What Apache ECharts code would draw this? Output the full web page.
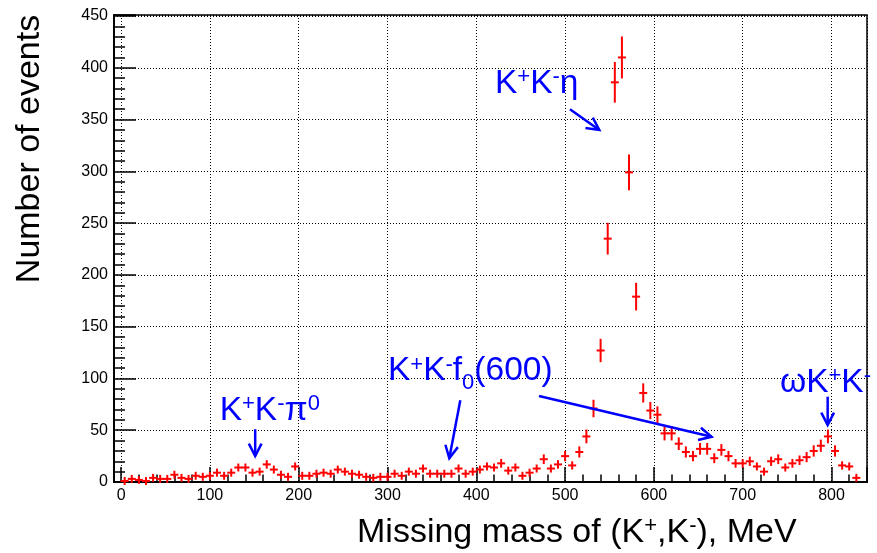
<!DOCTYPE html>
<html>
<head>
<meta charset="utf-8">
<script src="https://cdn.jsdelivr.net/npm/echarts@6/dist/echarts.min.js"></script>
<style>
  html, body { margin: 0; padding: 0; background: #fff; }
  #chart { width: 877px; height: 553px; }
</style>
</head>
<body>
<div id="chart"></div>
<script>
// Missing mass of (K+,K-) histogram, 8 MeV bins
const binWidth = 8;
const binCenters = [
  4, 12, 20, 28, 36, 44, 52, 60, 68, 76,
  84, 92, 100, 108, 116, 124, 132, 140, 148, 156,
  164, 172, 180, 188, 196, 204, 212, 220, 228, 236,
  244, 252, 260, 268, 276, 284, 292, 300, 308, 316,
  324, 332, 340, 348, 356, 364, 372, 380, 388, 396,
  404, 412, 420, 428, 436, 444, 452, 460, 468, 476,
  484, 492, 500, 508, 516, 524, 532, 540, 548, 556,
  564, 572, 580, 588, 596, 604, 612, 620, 628, 636,
  644, 652, 660, 668, 676, 684, 692, 700, 708, 716,
  724, 732, 740, 748, 756, 764, 772, 780, 788, 796,
  804, 812, 820, 828
];
const eventCounts = [
  1, 3, 2, 1, 4, 3, 3, 7, 4, 3,
  6, 5, 6, 9, 6, 9, 14, 14, 9, 10,
  17, 12, 7, 5, 15, 6, 6, 8, 9, 8,
  12, 10, 8, 7, 5, 4, 5, 5, 8, 6,
  10, 8, 13, 8, 8, 8, 8, 13, 8, 10,
  12, 15, 14, 18, 11, 14, 6, 9, 13, 22,
  13, 17, 25, 16, 29, 44, 71, 127, 235, 386,
  410, 299, 179, 86, 69, 65, 47, 47, 37, 29,
  25, 32, 32, 23, 31, 25, 18, 18, 20, 15,
  10, 20, 22, 14, 18, 21, 24, 30, 35, 44,
  30, 16, 15, 4
];

// Axis ranges and tick labels
const xRange = [-8, 840];
const yRange = [0, 451];
const xTickLabels = [0, 100, 200, 300, 400, 500, 600, 700, 800];
const yTickLabels = [0, 50, 100, 150, 200, 250, 300, 350, 400, 450];

// Annotations: reaction labels (left edge, baseline in data units) and arrows (tail -> tip)
const reactionLabels = [
  { pieces: [['K', 'n'], ['+', 'sup'], ['K', 'n'], ['-', 'sup'], ['\u03c0', 'n'], ['0', 'sup']], at: [111, 59] },
  { pieces: [['K', 'n'], ['+', 'sup'], ['K', 'n'], ['-', 'sup'], ['f', 'n'], ['0', 'sub'], ['(600)', 'n']], at: [300.5, 97] },
  { pieces: [['K', 'n'], ['+', 'sup'], ['K', 'n'], ['-', 'sup'], ['\u03b7', 'n']], at: [421, 374.7] },
  { pieces: [['\u03c9', 'n'], ['K', 'n'], ['+', 'sup'], ['K', 'n'], ['-', 'sup']], at: [742, 86.2] }
];
const arrows = [
  { from: [151, 51], to: [151, 25] },
  { from: [382, 79], to: [369.6, 23] },
  { from: [470.6, 83], to: [665, 43.7] },
  { from: [505.5, 360], to: [538.5, 340] },
  { from: [795.7, 82.4], to: [795.7, 55] }
];

const FONT = 'Liberation Sans';
const BLUE = '#0000ff';
const RED = '#ff0000';

function renderErrorBar(params, api) {
  const x = api.value(0);
  const n = api.value(1);
  const err = Math.sqrt(n);
  const c = api.coord([x, n]);
  const top = api.coord([x, n + err]);
  const bot = api.coord([x, n - err]);
  const left = api.coord([x - binWidth / 2, n]);
  const right = api.coord([x + binWidth / 2, n]);
  const half = 4;
  const y1 = Math.min(top[1], c[1] - half);
  const y2 = Math.max(bot[1], c[1] + half);
  const x1 = Math.min(left[0], c[0] - half);
  const x2 = Math.max(right[0], c[0] + half);
  const st = { stroke: RED, lineWidth: 2 };
  return {
    type: 'group',
    children: [
      { type: 'line', shape: { x1: c[0], y1: y1, x2: c[0], y2: y2 }, style: st },
      { type: 'line', shape: { x1: x1, y1: c[1], x2: x2, y2: c[1] }, style: st }
    ]
  };
}

const axisCommon = {
  type: 'value',
  axisLine: { onZero: false, lineStyle: { color: '#000', width: 2 } },
  axisLabel: { color: '#000', fontSize: 16, fontFamily: FONT, showMaxLabel: false },
  splitLine: { show: true, lineStyle: { color: '#000', width: 1, type: [1, 2] } }
};

const option = {
  animation: false,
  backgroundColor: '#fff',
  grid: { left: 114, right: 10, top: 15, bottom: 71, show: true, borderColor: '#000', borderWidth: 1.5 },
  xAxis: Object.assign({}, axisCommon, {
    min: xRange[0], max: xRange[1], splitNumber: xTickLabels.length - 1,
    axisTick: { inside: true, length: 15, lineStyle: { color: '#000', width: 1.5 } },
    minorTick: { show: true, splitNumber: 5, length: 7.5, lineStyle: { color: '#000', width: 1.5 } },
    axisLabel: Object.assign({}, axisCommon.axisLabel, { showMinLabel: false, margin: 6 })
  }),
  yAxis: Object.assign({}, axisCommon, {
    min: yRange[0], max: yRange[1], splitNumber: yTickLabels.length - 1,
    axisTick: { inside: true, length: 22, lineStyle: { color: '#000', width: 1.5 } },
    minorTick: { show: true, splitNumber: 5, length: 11, lineStyle: { color: '#000', width: 1.5 } },
    axisLabel: Object.assign({}, axisCommon.axisLabel, { margin: 6 })
  }),
  series: [{
    type: 'custom',
    renderItem: renderErrorBar,
    data: binCenters.map((x, i) => [x, eventCounts[i]]),
    z: 5
  }]
};

const chart = echarts.init(document.getElementById('chart'));
chart.setOption(option);

// Text layout with super/subscripts
const measureCtx = document.createElement('canvas').getContext('2d');
function textWidth(s, size) {
  measureCtx.font = size + 'px "' + FONT + '"';
  return measureCtx.measureText(s).width;
}
function latexText(pieces, left, baseline, size, color) {
  const small = Math.round(size * 0.66);
  const out = [];
  let x = left;
  pieces.forEach(([t, role]) => {
    const s = role === 'n' ? size : small;
    const base = role === 'sup' ? baseline - size * 0.3 : role === 'sub' ? baseline + size * 0.25 : baseline;
    out.push({
      type: 'text', x: x, y: base - 0.31 * s, silent: true, z: 10,
      style: { text: t, fontSize: s, fontFamily: FONT, fill: color, align: 'left', verticalAlign: 'middle' }
    });
    x += textWidth(t, s);
  });
  return out;
}
function arrowShape(p0, p1) {
  const ang = Math.atan2(p1[1] - p0[1], p1[0] - p0[0]);
  const len = 14, spread = 27 * Math.PI / 180;
  const a1 = [p1[0] - len * Math.cos(ang - spread), p1[1] - len * Math.sin(ang - spread)];
  const a2 = [p1[0] - len * Math.cos(ang + spread), p1[1] - len * Math.sin(ang + spread)];
  const st = { stroke: BLUE, lineWidth: 2.5, fill: null };
  return [
    { type: 'line', silent: true, z: 10, shape: { x1: p0[0], y1: p0[1], x2: p1[0], y2: p1[1] }, style: st },
    { type: 'polyline', silent: true, z: 10, shape: { points: [a1, p1, a2] }, style: st }
  ];
}

const toPx = (p) => chart.convertToPixel({ gridIndex: 0 }, p);
let graphics = [];
reactionLabels.forEach((lab) => {
  const p = toPx(lab.at);
  graphics = graphics.concat(latexText(lab.pieces, p[0], p[1], 33.5, BLUE));
});
arrows.forEach((a) => {
  graphics = graphics.concat(arrowShape(toPx(a.from), toPx(a.to)));
});
// Axis titles
graphics = graphics.concat(latexText(
  [['Missing mass of (K', 'n'], ['+', 'sup'], [',K', 'n'], ['-', 'sup'], ['), MeV', 'n']],
  357, 543, 34, '#000'));
graphics.push({
  type: 'text', x: 30, y: 149, rotation: Math.PI / 2, silent: true,
  style: { text: 'Number of events', fontSize: 34, fontFamily: FONT, fill: '#000', align: 'center', verticalAlign: 'middle' }
});
chart.setOption({ graphic: graphics });
</script>
</body>
</html>
